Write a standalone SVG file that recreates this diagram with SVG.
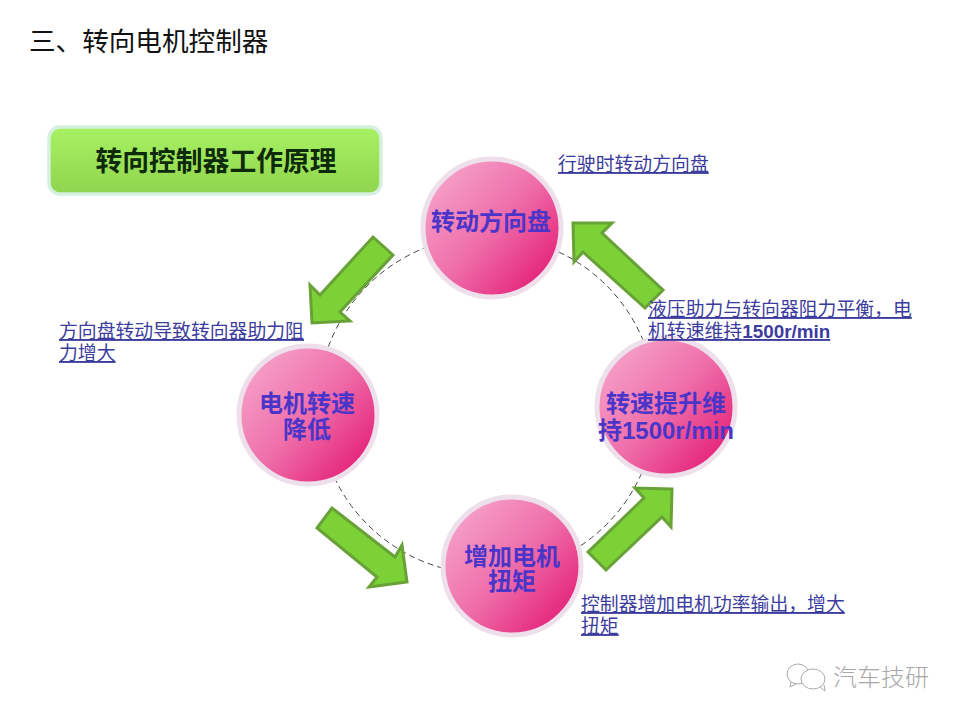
<svg xmlns="http://www.w3.org/2000/svg" width="960" height="720" viewBox="0 0 960 720">
<style>
text{font-family:"Noto Sans CJK SC","Liberation Sans",sans-serif}
.t{font-size:26.6px;fill:#111}
.n{font-size:24px;font-weight:700;fill:#4b35c9;text-anchor:middle}
.l{font-size:18.85px;fill:#3c3c9e;text-decoration:underline}
.ln{font-family:"Liberation Sans","Noto Sans CJK SC",sans-serif;font-weight:700}
.a{fill:#7cd136;stroke:#68a136;stroke-width:3;stroke-linejoin:miter}
.r{fill:url(#p);stroke:#eee0ea;stroke-width:5}
.d{fill:none;stroke:#444;stroke-width:1;stroke-dasharray:6 4}
</style>
<defs>
<linearGradient id="p" x1="0.12" y1="0.15" x2="0.88" y2="0.85">
<stop offset="0" stop-color="#f59ec6"/><stop offset="0.5" stop-color="#ef6eaa"/><stop offset="1" stop-color="#e5257b"/>
</linearGradient>
<linearGradient id="g" x1="0" y1="0" x2="0" y2="1">
<stop offset="0" stop-color="#a8f163"/><stop offset="1" stop-color="#8fd54e"/>
</linearGradient>
</defs>
<rect width="960" height="720" fill="#fff"/>
<text class="t" x="29" y="51">三、转向电机控制器</text>
<g id="connectors">
<circle class="d" cx="487" cy="405" r="169"/>
<path class="a" d="M573 223L612 223L602 233L663 290L645 308L583 252L574 262Z"/>
<path class="a" d="M373 237L393 255L340 312L350 321L312 323L310 285L320 295Z"/>
<path class="a" d="M332 508L317 528L377 577L369 587L407 582L402 545L395 557Z"/>
<path class="a" d="M588 552L606 570L662 517L671 527L672 489L635 488L644 498Z"/>
</g>
<g id="heading">
<rect x="49" y="127" width="332" height="67" rx="11" fill="url(#g)" stroke="#d5f0e0" stroke-width="3.5"/>
<text x="216" y="171" font-size="26.8" font-weight="700" fill="#0d2a0a" text-anchor="middle">转向控制器工作原理</text>
</g>
<g id="node-top">
<circle class="r" cx="492" cy="228" r="69"/>
<text class="n" x="491" y="230">转动方向盘</text>
</g>
<g id="node-left">
<circle class="r" cx="308" cy="415" r="69"/>
<text class="n"><tspan x="307" y="412">电机转速</tspan><tspan x="307" y="438">降低</tspan></text>
</g>
<g id="node-right">
<circle class="r" cx="666" cy="407" r="69"/>
<text class="n"><tspan x="666" y="412">转速提升维</tspan><tspan x="666" y="439">持<tspan class="ln">1500r/min</tspan></tspan></text>
</g>
<g id="node-bottom">
<circle class="r" cx="512" cy="566" r="69"/>
<text class="n"><tspan x="512" y="565">增加电机</tspan><tspan x="512" y="590">扭矩</tspan></text>
</g>
<g id="labels">
<text class="l" x="558" y="171">行驶时转动方向盘</text>
<text class="l"><tspan x="648" y="316">液压助力与转向器阻力平衡，电</tspan><tspan x="648" y="338">机转速维持<tspan class="ln">1500r/min</tspan></tspan></text>
<text class="l"><tspan x="59" y="338">方向盘转动导致转向器助力阻</tspan><tspan x="59" y="360">力增大</tspan></text>
<text class="l"><tspan x="581" y="611">控制器增加电机功率输出，增大</tspan><tspan x="581" y="633">扭矩</tspan></text>
</g>
<g id="watermark" fill="none" stroke="#aaa" stroke-width="1">
<ellipse cx="798" cy="674" rx="11" ry="10"/>
<path d="M791 682l-1 5 6-3"/>
<ellipse cx="813" cy="679" rx="12" ry="10" fill="#fff"/>
<path d="M820 687l5 4-1-6"/>
<text x="833" y="686" font-size="24" font-weight="300" fill="#a8a8a8" stroke="none">汽车技研</text>
</g>
</svg>
